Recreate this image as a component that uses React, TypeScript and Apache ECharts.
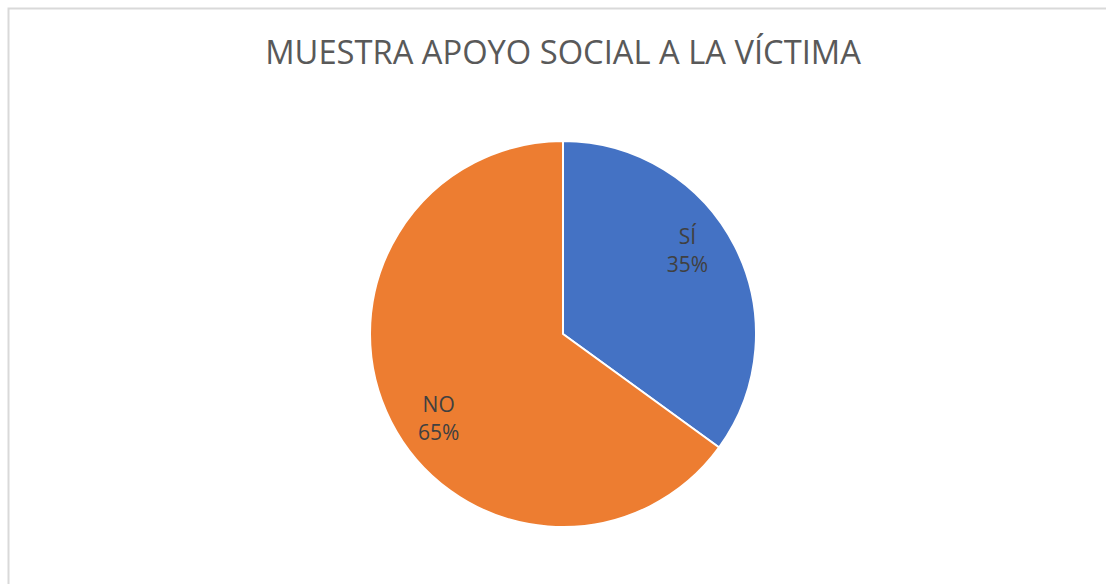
import React, { useEffect, useRef } from "react";
import * as echarts from "echarts";

const titleText = "MUESTRA APOYO SOCIAL A LA VÍCTIMA";
const categories = ["SÍ", "NO"];
const percentages = [35, 65];
const colors = ["#4472C4", "#ED7D31"];

export default function App() {
  const ref = useRef<HTMLDivElement>(null);
  useEffect(() => {
    if (!ref.current) return;
    const chart = echarts.init(ref.current, undefined, { renderer: "svg" });
    const data = categories.map((name, i) => ({
      name,
      value: percentages[i],
      itemStyle: { color: colors[i] },
    }));
    chart.setOption({
      animation: false,
      backgroundColor: "#ffffff",
      title: {
        text: titleText,
        left: 558,
        textAlign: "center",
        top: 30,
        textStyle: {
          fontFamily: "Open Sans",
          fontSize: 32.7,
          fontWeight: "normal",
          color: "#595959",
        },
      },
      graphic: [
        {
          type: "rect",
          shape: { x: 8.5, y: 8.5, width: 1200, height: 700 },
          style: { fill: "none", stroke: "#d9d9d9", lineWidth: 2 },
          silent: true,
        },
      ],
      series: [
        {
          type: "pie",
          center: [563, 334],
          radius: [0, 193],
          startAngle: 90,
          clockwise: true,
          data,
          label: { show: false },
          labelLine: { show: false },
          itemStyle: { borderColor: "#ffffff", borderWidth: 2 },
          emphasis: { disabled: true },
        },
        {
          type: "pie",
          center: [563, 334],
          radius: [101, 193],
          startAngle: 97,
          clockwise: true,
          silent: true,
          data: categories.map((name, i) => ({ name, value: percentages[i] })),
          itemStyle: { color: "rgba(0,0,0,0)", borderWidth: 0 },
          label: {
            show: true,
            position: "inside",
            formatter: "{b}\n{c}%",
            fontFamily: "Open Sans",
            fontSize: 21,
            lineHeight: 28,
            color: "#404040",
          },
          labelLine: { show: false },
          emphasis: { disabled: true },
        },
      ],
    });
    return () => chart.dispose();
  }, []);
  return (
    <div
      ref={ref}
      style={{ position: "fixed", left: 0, top: 0, width: 1106, height: 584 }}
    />
  );
}
